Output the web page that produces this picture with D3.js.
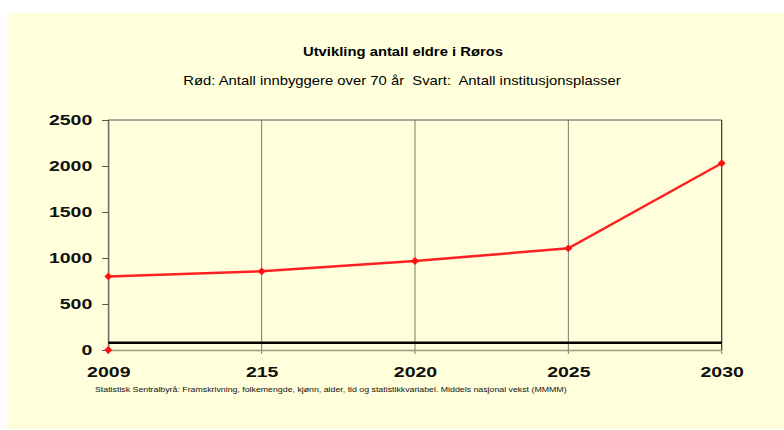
<!DOCTYPE html>
<html>
<head>
<meta charset="utf-8">
<script src="https://cdn.jsdelivr.net/npm/d3@7"></script>
<style>
  body { margin: 0; background: #fff; }
  text { font-family: "Liberation Sans", Arial, sans-serif; }
</style>
</head>
<body>
<div id="chart"></div>
<script>
// data
let years = ["2009", "215", "2020", "2025", "2030"];
let innbyggere = [800, 855, 968, 1105, 2030];   // red: over 70 år
let plasser = [80, 80, 80, 80, 80];             // black: institusjonsplasser
let nullpunkt = [0, null, null, null, null];     // lone red marker at 0
let yTicks = [0, 500, 1000, 1500, 2000, 2500];

let W = 784, H = 430;

let svg = d3.select("#chart")
            .append("svg")
                .attr("width", W)
                .attr("height", H);

// yellow panel
svg.append("rect")
    .attr("x", 7).attr("y", 13)
    .attr("width", W - 7).attr("height", 416)
    .attr("fill", "#ffffdc");

let x = d3.scalePoint().domain(years).range([108.3, 721.7]);
let y = d3.scaleLinear().domain([0, 2500]).range([350, 120]);

// stretch text horizontally (original is wider than the fonts we have)
function stretch(sel, f) {
  sel.each(function() {
    let w = this.getComputedTextLength();
    d3.select(this).attr("textLength", w * f).attr("lengthAdjust", "spacingAndGlyphs");
  });
}

// titles
svg.append("text")
    .attr("x", 403).attr("y", 56)
    .attr("text-anchor", "middle")
    .attr("font-size", 13).attr("font-weight", "bold")
    .text("Utvikling antall eldre i Røros")
    .call(stretch, 1.14);

svg.append("text")
    .attr("x", 402).attr("y", 85)
    .attr("text-anchor", "middle")
    .attr("font-size", 13)
    .style("white-space", "pre")
    .text("Rød: Antall innbyggere over 70 år  Svart:  Antall institusjonsplasser")
    .call(stretch, 1.14);

// vertical grid lines
svg.append("g")
    .selectAll("line")
    .data(years)
    .join("line")
        .attr("x1", d => x(d)).attr("x2", d => x(d))
        .attr("y1", y(2500)).attr("y2", y(0) + 4)
        .attr("stroke", "#7a7a70")
        .attr("stroke-width", 1);

// top border
svg.append("line")
    .attr("x1", x(years[0])).attr("x2", x(years[4]))
    .attr("y1", y(2500)).attr("y2", y(2500))
    .attr("stroke", "#555").attr("stroke-width", 1);

// right border
svg.append("line")
    .attr("x1", x(years[4])).attr("x2", x(years[4]))
    .attr("y1", y(2500)).attr("y2", y(0))
    .attr("stroke", "#333").attr("stroke-width", 1);

// y axis
let yAxis = svg.append("g")
    .attr("transform", "translate(" + x(years[0]) + ",0)")
    .call(d3.axisLeft(y).tickValues(yTicks).tickSize(6).tickPadding(10).tickFormat(d3.format("d")));
yAxis.select(".domain").attr("stroke", "#555");
yAxis.selectAll(".tick line").attr("stroke", "#555");
yAxis.selectAll("text")
    .attr("font-family", "Liberation Sans, Arial, sans-serif")
    .attr("font-size", 15).attr("font-weight", "bold")
    .attr("fill", "#111")
    .call(stretch, 1.3);

// x axis
let xAxis = svg.append("g")
    .attr("transform", "translate(0," + y(0) + ")")
    .call(d3.axisBottom(x).tickSize(0).tickPadding(16));
xAxis.select(".domain").attr("stroke", "#9a9a80").attr("stroke-width", 1.5);
xAxis.selectAll("text")
    .attr("font-family", "Liberation Sans, Arial, sans-serif")
    .attr("font-size", 15).attr("font-weight", "bold")
    .attr("fill", "#111")
    .call(stretch, 1.3);

// black series
let line = d3.line()
    .defined(d => d.v != null)
    .x(d => x(d.k))
    .y(d => y(d.v));

svg.append("path")
    .attr("d", line(years.map((k, i) => ({k: k, v: plasser[i]}))))
    .attr("fill", "none")
    .attr("stroke", "#000")
    .attr("stroke-width", 2.5);

// red series
let red = years.map((k, i) => ({k: k, v: innbyggere[i]}));
svg.append("path")
    .attr("d", line(red))
    .attr("fill", "none")
    .attr("stroke", "#ff2020")
    .attr("stroke-width", 2.5);

let diamond = d3.symbol().type(d3.symbolDiamond2).size(40);
let pts = red.concat(years.map((k, i) => ({k: k, v: nullpunkt[i]})).filter(d => d.v != null));
svg.append("g")
    .selectAll("path")
    .data(pts)
    .join("path")
        .attr("transform", d => "translate(" + x(d.k) + "," + y(d.v) + ")")
        .attr("d", diamond)
        .attr("fill", "#ff1010");

// source
svg.append("text")
    .attr("x", 95).attr("y", 392)
    .attr("font-size", 7.5)
    .attr("fill", "#111")
    .text("Statistisk Sentralbyrå: Framskrivning, folkemengde, kjønn, alder, tid og statistikkvariabel. Middels nasjonal vekst (MMMM)")
    .call(stretch, 1.17);
</script>
</body>
</html>
